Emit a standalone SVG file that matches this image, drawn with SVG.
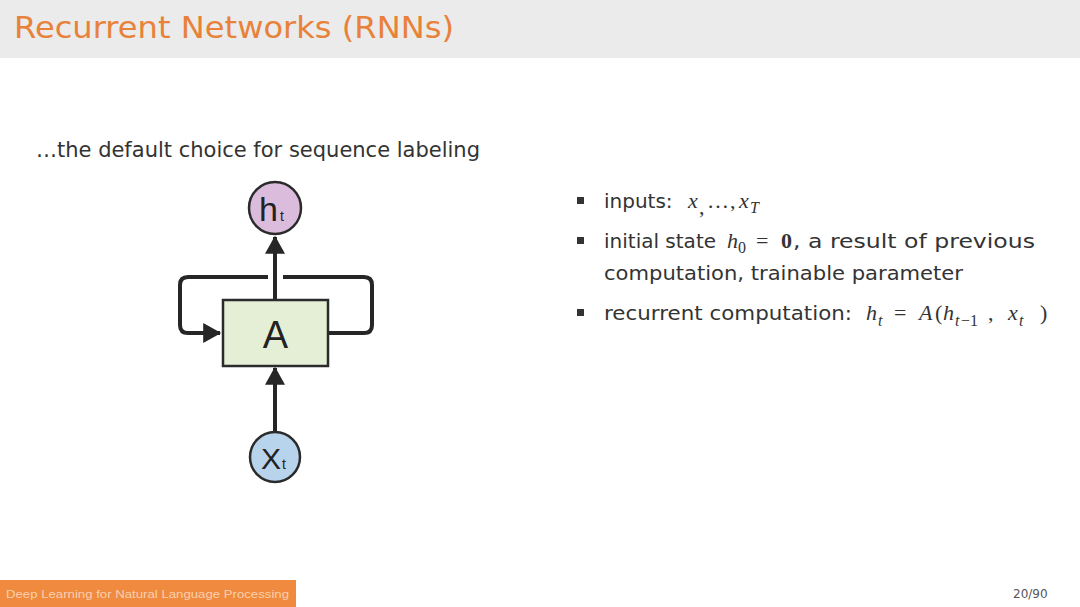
<svg xmlns="http://www.w3.org/2000/svg" width="1080" height="607" viewBox="0 0 1080 607">
<style>
.t{font-family:"DejaVu Sans","Liberation Sans",sans-serif;fill:#333;}
.b{font-family:"DejaVu Sans","Liberation Sans",sans-serif;fill:#333;font-size:20px;}
.m{font-family:"Liberation Serif","DejaVu Serif",serif;font-style:italic;fill:#333;font-size:22px;}
.mr{font-family:"Liberation Serif","DejaVu Serif",serif;fill:#333;font-size:22px;}
.ms{font-family:"Liberation Serif","DejaVu Serif",serif;font-style:italic;fill:#333;font-size:16px;}
.msr{font-family:"Liberation Serif","DejaVu Serif",serif;fill:#333;font-size:16px;}
.ln{fill:none;stroke:#262626;stroke-width:4;}
.nd{stroke:#2b2b2b;stroke-width:2.5;}
.lab{font-family:"Liberation Sans","DejaVu Sans",sans-serif;fill:#222;}
.bul{fill:#333;}
</style>
<defs>
<marker id="ah" markerWidth="5" markerHeight="5" refX="4.2" refY="2.5" orient="auto" markerUnits="strokeWidth">
<path d="M0,0 L4.5,2.5 L0,5 Z" fill="#262626"/>
</marker>
</defs>
<rect x="0" y="0" width="1080" height="58" fill="#ebebeb"/>
<rect x="0" y="58" width="1080" height="549" fill="#ffffff"/>
<text x="14" y="38" font-family="DejaVu Sans,Liberation Sans,sans-serif" font-size="30" fill="#e8823a" textLength="440" lengthAdjust="spacingAndGlyphs">Recurrent Networks (RNNs)</text>
<text class="t" x="36" y="157" font-size="21" textLength="444" lengthAdjust="spacingAndGlyphs">…the default choice for sequence labeling</text>

<g id="connectors">
<path class="ln" d="M268,277 H188 Q180,277 180,285 V325 Q180,333 188,333 H220" marker-end="url(#ah)"/>
<path class="ln" d="M283,277 H364 Q372,277 372,285 V325 Q372,333 364,333 H328"/>
<path class="ln" d="M275,300 V237" marker-end="url(#ah)"/>
<path class="ln" d="M275,432 V368" marker-end="url(#ah)"/>
</g>
<g id="node-h">
<circle class="nd" cx="275" cy="208" r="26" fill="#dcbcdc"/>
<text class="lab" x="259" y="221" font-size="34">h</text>
<text class="lab" x="280" y="221" font-size="14">t</text>
</g>
<g id="node-A">
<rect class="nd" x="223" y="300" width="105" height="66" fill="#e5efd6"/>
<text class="lab" x="275.5" y="348" font-size="38" text-anchor="middle">A</text>
</g>
<g id="node-x">
<circle class="nd" cx="275" cy="457" r="25" fill="#b8d4ec"/>
<text class="lab" x="261" y="469" font-size="30">X</text>
<text class="lab" x="282" y="469" font-size="14">t</text>
</g>

<g id="bullets">
<rect class="bul" x="577" y="197" width="7" height="7"/>
<text class="b" x="604" y="208">inputs:</text>
<text class="m" x="688" y="208">x</text>
<text class="mr" x="699" y="214">,</text>
<text class="mr" x="707" y="208">…</text>
<text class="mr" x="730" y="208">,</text>
<text class="m" x="739" y="208">x</text>
<text class="ms" x="750" y="213">T</text>

<rect class="bul" x="577" y="237" width="7" height="7"/>
<text class="b" x="604" y="248">initial state</text>
<text class="m" x="727" y="248">h</text>
<text class="msr" x="738" y="253">0</text>
<text class="mr" x="756" y="248">=</text>
<text class="mr" x="781" y="248" font-weight="bold">0</text>
<text class="b" x="793" y="248" textLength="242" lengthAdjust="spacingAndGlyphs">, a result of previous</text>
<text class="b" x="604" y="280" textLength="359" lengthAdjust="spacingAndGlyphs">computation, trainable parameter</text>

<rect class="bul" x="577" y="309" width="7" height="7"/>
<text class="b" x="604" y="320" textLength="248" lengthAdjust="spacingAndGlyphs">recurrent computation:</text>
<text class="m" x="866" y="320">h</text>
<text class="ms" x="878" y="326">t</text>
<text class="mr" x="894" y="320">=</text>
<text class="m" x="919" y="320">A</text>
<text class="mr" x="935" y="320">(</text>
<text class="m" x="943" y="320">h</text>
<text class="ms" x="955" y="326">t</text>
<text class="msr" x="961" y="326">−1</text>
<text class="mr" x="988" y="320">,</text>
<text class="m" x="1008" y="320">x</text>
<text class="ms" x="1019" y="326">t</text>
<text class="mr" x="1040" y="320">)</text>
</g>

<rect x="0" y="580" width="296" height="27" fill="#f08a3e"/>
<text x="6" y="598" font-family="Liberation Sans,DejaVu Sans,sans-serif" font-size="11" fill="#f8d0b0" textLength="283" lengthAdjust="spacingAndGlyphs">Deep Learning for Natural Language Processing</text>
<text x="1013" y="598" font-family="DejaVu Sans,Liberation Sans,sans-serif" font-size="12" fill="#555">20/90</text>
</svg>
